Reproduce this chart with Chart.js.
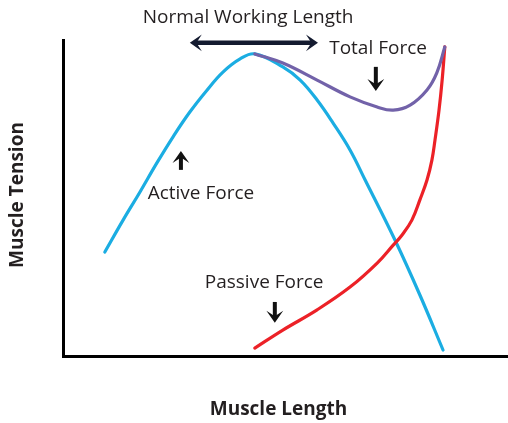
<!DOCTYPE html>
<html>
<head>
<meta charset="utf-8">
<title>Muscle Length-Tension</title>
<script src="https://cdn.jsdelivr.net/npm/chart.js@4.4.1/dist/chart.umd.min.js"></script>
<style>
    html, body { margin: 0; padding: 0; background: #ffffff; }
    #wrap { width: 508px; height: 423px; position: relative; }
</style>
</head>
<body>
<div id="wrap"><canvas id="tension-chart"></canvas></div>
<script>
// length / tension pairs for each curve (arbitrary units, 0-100)
const activeLength = [9.4, 13.5, 17.3, 21.1, 24.7, 28.5, 32.4, 36.0, 39.8, 43.1, 49.4, 53.3, 57.1, 60.7, 64.5, 67.9, 74.6, 80.2, 85.4];
const activeTension = [32.9, 43.0, 51.9, 61.1, 69.3, 77.2, 84.2, 89.9, 94.0, 95.6, 91.5, 87.3, 81.0, 73.7, 65.2, 55.7, 36.7, 19.3, 1.9];

const passiveLength = [43.1, 49.4, 57.1, 64.5, 70.6, 74.2, 76.2, 78.4, 80.2, 81.8, 82.9, 83.6, 84.5, 85.2, 85.8];
const passiveTension = [2.5, 8.2, 14.6, 21.8, 29.4, 35.1, 38.3, 43.0, 49.4, 55.7, 62.0, 68.4, 77.8, 87.3, 97.8];

const totalLength = [43.1, 49.4, 57.1, 64.5, 70.6, 74.2, 78.0, 81.8, 84.0, 85.8];
const totalTension = [95.6, 92.7, 87.3, 82.0, 78.8, 77.8, 79.4, 84.2, 89.6, 97.8];

const axisTitles = { x: 'Muscle Length', y: 'Muscle Tension' };

// text notes and arrows, placed in chart units
const notes = [
    { text: 'Normal Working Length', x: 41.6, y: 107.0 },
    { text: 'Total Force', x: 70.8, y: 97.2 },
    { text: 'Active Force', x: 31.0, y: 51.3 },
    { text: 'Passive Force', x: 45.2, y: 23.1 }
];
const arrows = [
    { x1: 28.5, y1: 99.1, x2: 57.3, y2: 99.1, both: true, color: '#141b30' },
    { x1: 70.3, y1: 91.5, x2: 70.3, y2: 83.9, color: '#111111' },
    { x1: 26.5, y1: 58.9, x2: 26.5, y2: 64.9, color: '#111111' },
    { x1: 47.6, y1: 17.1, x2: 47.6, y2: 10.5, color: '#111111' }
];

const textColor = '#231f20';
const fontFamily = '"Open Sans", "Noto Sans", sans-serif';

function toPoints(xs, ys) {
    return xs.map((x, i) => ({ x: x, y: ys[i] }));
}

function drawHead(ctx, x, y, angle, size) {
    ctx.save();
    ctx.translate(x, y);
    ctx.rotate(angle);
    ctx.beginPath();
    ctx.moveTo(0, 0);
    ctx.lineTo(-size, -size * 0.7);
    ctx.lineTo(-size * 0.55, 0);
    ctx.lineTo(-size, size * 0.7);
    ctx.closePath();
    ctx.fill();
    ctx.restore();
}

const notesPlugin = {
    id: 'notes',
    afterDraw(chart) {
        const ctx = chart.ctx;
        const xs = chart.scales.x;
        const ys = chart.scales.y;
        const area = chart.chartArea;

        ctx.save();
        ctx.fillStyle = textColor;
        ctx.textAlign = 'center';
        ctx.textBaseline = 'middle';
        ctx.font = '19px ' + fontFamily;
        notes.forEach(n => {
            ctx.fillText(n.text, xs.getPixelForValue(n.x), ys.getPixelForValue(n.y));
        });

        arrows.forEach(a => {
            const x1 = xs.getPixelForValue(a.x1);
            const y1 = ys.getPixelForValue(a.y1);
            const x2 = xs.getPixelForValue(a.x2);
            const y2 = ys.getPixelForValue(a.y2);
            const angle = Math.atan2(y2 - y1, x2 - x1);
            const inset = a.both ? 5 : 0;
            ctx.strokeStyle = a.color;
            ctx.fillStyle = a.color;
            ctx.lineWidth = a.both ? 4.5 : 4;
            ctx.beginPath();
            ctx.moveTo(x1 + Math.cos(angle) * inset, y1 + Math.sin(angle) * inset);
            ctx.lineTo(x2 - Math.cos(angle) * 5, y2 - Math.sin(angle) * 5);
            ctx.stroke();
            drawHead(ctx, x2, y2, angle, 12);
            if (a.both) {
                drawHead(ctx, x1, y1, angle + Math.PI, 12);
            }
        });

        // axis titles
        ctx.fillStyle = textColor;
        ctx.font = 'bold 19px ' + fontFamily;
        ctx.fillText(axisTitles.x, (area.left + area.right) / 2 - 7, 410);
        ctx.translate(18, (area.top + area.bottom) / 2 - 3);
        ctx.rotate(-Math.PI / 2);
        ctx.fillText(axisTitles.y, 0, 0);
        ctx.restore();
    }
};

const ctx = document.getElementById('tension-chart').getContext('2d');
new Chart(ctx, {
    type: 'line',
    data: {
        datasets: [
            {
                label: 'Total Force',
                data: toPoints(totalLength, totalTension),
                borderColor: '#7262a9',
                borderWidth: 3.2,
                order: 0
            },
            {
                label: 'Passive Force',
                data: toPoints(passiveLength, passiveTension),
                borderColor: '#ec2127',
                borderWidth: 3.2,
                order: 1
            },
            {
                label: 'Active Force',
                data: toPoints(activeLength, activeTension),
                borderColor: '#1bade2',
                borderWidth: 3.2,
                order: 2
            }
        ]
    },
    options: {
        responsive: true,
        maintainAspectRatio: false,
        animation: false,
        layout: { padding: { left: 63, right: 0, top: 40, bottom: 67 } },
        elements: {
            point: { radius: 0 },
            line: { tension: 0.4, borderCapStyle: 'round', borderJoinStyle: 'round', fill: false }
        },
        datasets: { line: { clip: false } },
        plugins: {
            legend: { display: false },
            tooltip: { enabled: false }
        },
        scales: {
            x: {
                type: 'linear',
                min: 0,
                max: 100,
                grid: { display: false, drawTicks: false },
                ticks: { display: false },
                border: { display: true, color: '#000000', width: 3 }
            },
            y: {
                type: 'linear',
                min: 0,
                max: 100,
                grid: { display: false, drawTicks: false },
                ticks: { display: false },
                border: { display: true, color: '#000000', width: 3 }
            }
        }
    },
    plugins: [notesPlugin]
});
</script>
</body>
</html>
